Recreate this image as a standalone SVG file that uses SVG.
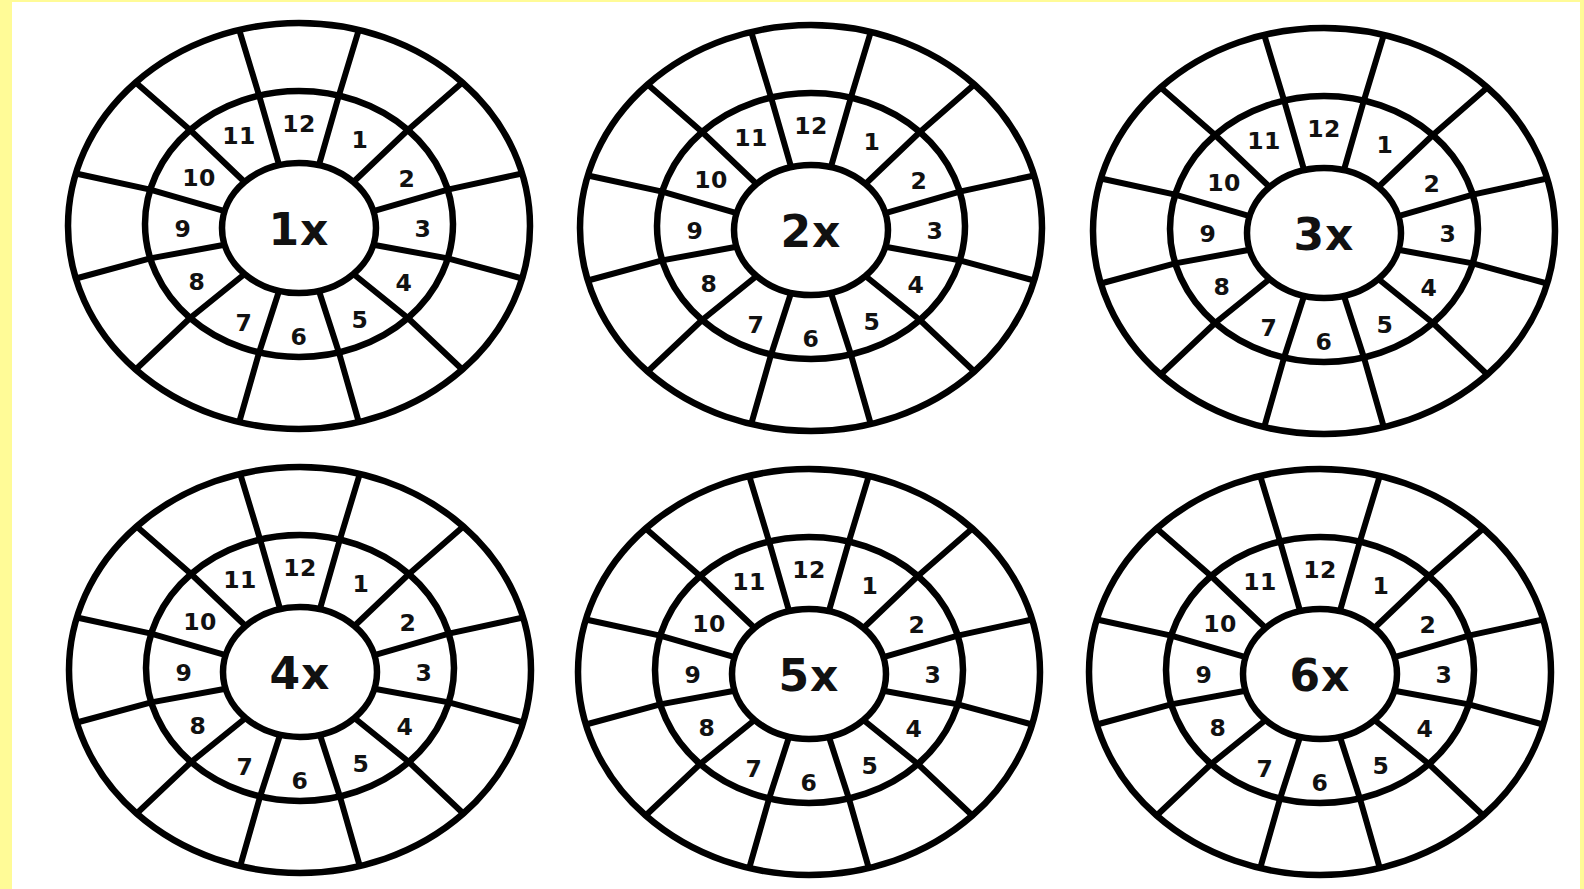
<svg xmlns="http://www.w3.org/2000/svg" xmlns:xlink="http://www.w3.org/1999/xlink" width="1584" height="889" viewBox="0 0 1584 889">
<style>
.ring{fill:none;stroke:#000;stroke-width:6.5}
.spoke{fill:none;stroke:#000;stroke-width:6;stroke-linejoin:round}
.num{font-family:"DejaVu Sans","Liberation Sans",sans-serif;font-weight:bold;font-size:23.5px;letter-spacing:0.5px;fill:#111;text-anchor:middle;dominant-baseline:central}
.lbl{font-family:"DejaVu Sans","Liberation Sans",sans-serif;font-weight:bold;font-size:44px;letter-spacing:1px;fill:#111;text-anchor:middle;dominant-baseline:central}
</style>
<defs>
<g id="wheel">
<ellipse class="ring" cx="0" cy="0" rx="231" ry="203"/>
<ellipse class="ring" cx="0" cy="-2" rx="154" ry="133"/>
<ellipse class="ring" cx="0" cy="2" rx="77" ry="65"/>
<g class="spokes">
<polyline class="spoke" points="19.9,-60.8 39.9,-130.5 59.8,-196.1"/>
<polyline class="spoke" points="54.4,-44 108.9,-96 163.3,-143.5"/>
<polyline class="spoke" points="74.4,-14.8 148.8,-36.4 223.1,-52.5"/>
<polyline class="spoke" points="74.4,18.8 148.8,32.4 223.1,52.5"/>
<polyline class="spoke" points="54.4,48 108.9,92 163.3,143.5"/>
<polyline class="spoke" points="19.9,64.8 39.9,126.5 59.8,196.1"/>
<polyline class="spoke" points="-19.9,-60.8 -39.9,-130.5 -59.8,-196.1"/>
<polyline class="spoke" points="-54.4,-44 -108.9,-96 -163.3,-143.5"/>
<polyline class="spoke" points="-74.4,-14.8 -148.8,-36.4 -223.1,-52.5"/>
<polyline class="spoke" points="-74.4,18.8 -148.8,32.4 -223.1,52.5"/>
<polyline class="spoke" points="-54.4,48 -108.9,92 -163.3,143.5"/>
<polyline class="spoke" points="-19.9,64.8 -39.9,126.5 -59.8,196.1"/>
</g>
</g>
</defs>
<rect x="0" y="0" width="1584" height="889" fill="#fffb97"/>
<rect x="12" y="2" width="1568" height="887" fill="#ffffff"/>

<g id="wheel-1x" transform="translate(299,226)">
<use xlink:href="#wheel" href="#wheel"/>
<text class="lbl" x="0" y="3">1x</text>
<text class="num" x="0" y="-102">12</text><text class="num" x="61" y="-86">1</text><text class="num" x="108" y="-47">2</text><text class="num" x="124" y="3">3</text><text class="num" x="105" y="57">4</text><text class="num" x="61" y="94">5</text><text class="num" x="0" y="111">6</text><text class="num" x="-55" y="97">7</text><text class="num" x="-102" y="56">8</text><text class="num" x="-116" y="3">9</text><text class="num" x="-100" y="-48">10</text><text class="num" x="-60" y="-90">11</text>
</g>

<g id="wheel-2x" transform="translate(811,228)">
<use xlink:href="#wheel" href="#wheel"/>
<text class="lbl" x="0" y="3">2x</text>
<text class="num" x="0" y="-102">12</text><text class="num" x="61" y="-86">1</text><text class="num" x="108" y="-47">2</text><text class="num" x="124" y="3">3</text><text class="num" x="105" y="57">4</text><text class="num" x="61" y="94">5</text><text class="num" x="0" y="111">6</text><text class="num" x="-55" y="97">7</text><text class="num" x="-102" y="56">8</text><text class="num" x="-116" y="3">9</text><text class="num" x="-100" y="-48">10</text><text class="num" x="-60" y="-90">11</text>
</g>

<g id="wheel-3x" transform="translate(1324,231)">
<use xlink:href="#wheel" href="#wheel"/>
<text class="lbl" x="0" y="3">3x</text>
<text class="num" x="0" y="-102">12</text><text class="num" x="61" y="-86">1</text><text class="num" x="108" y="-47">2</text><text class="num" x="124" y="3">3</text><text class="num" x="105" y="57">4</text><text class="num" x="61" y="94">5</text><text class="num" x="0" y="111">6</text><text class="num" x="-55" y="97">7</text><text class="num" x="-102" y="56">8</text><text class="num" x="-116" y="3">9</text><text class="num" x="-100" y="-48">10</text><text class="num" x="-60" y="-90">11</text>
</g>

<g id="wheel-4x" transform="translate(300,670)">
<use xlink:href="#wheel" href="#wheel"/>
<text class="lbl" x="0" y="3">4x</text>
<text class="num" x="0" y="-102">12</text><text class="num" x="61" y="-86">1</text><text class="num" x="108" y="-47">2</text><text class="num" x="124" y="3">3</text><text class="num" x="105" y="57">4</text><text class="num" x="61" y="94">5</text><text class="num" x="0" y="111">6</text><text class="num" x="-55" y="97">7</text><text class="num" x="-102" y="56">8</text><text class="num" x="-116" y="3">9</text><text class="num" x="-100" y="-48">10</text><text class="num" x="-60" y="-90">11</text>
</g>

<g id="wheel-5x" transform="translate(809,672)">
<use xlink:href="#wheel" href="#wheel"/>
<text class="lbl" x="0" y="3">5x</text>
<text class="num" x="0" y="-102">12</text><text class="num" x="61" y="-86">1</text><text class="num" x="108" y="-47">2</text><text class="num" x="124" y="3">3</text><text class="num" x="105" y="57">4</text><text class="num" x="61" y="94">5</text><text class="num" x="0" y="111">6</text><text class="num" x="-55" y="97">7</text><text class="num" x="-102" y="56">8</text><text class="num" x="-116" y="3">9</text><text class="num" x="-100" y="-48">10</text><text class="num" x="-60" y="-90">11</text>
</g>

<g id="wheel-6x" transform="translate(1320,672)">
<use xlink:href="#wheel" href="#wheel"/>
<text class="lbl" x="0" y="3">6x</text>
<text class="num" x="0" y="-102">12</text><text class="num" x="61" y="-86">1</text><text class="num" x="108" y="-47">2</text><text class="num" x="124" y="3">3</text><text class="num" x="105" y="57">4</text><text class="num" x="61" y="94">5</text><text class="num" x="0" y="111">6</text><text class="num" x="-55" y="97">7</text><text class="num" x="-102" y="56">8</text><text class="num" x="-116" y="3">9</text><text class="num" x="-100" y="-48">10</text><text class="num" x="-60" y="-90">11</text>
</g>
</svg>
